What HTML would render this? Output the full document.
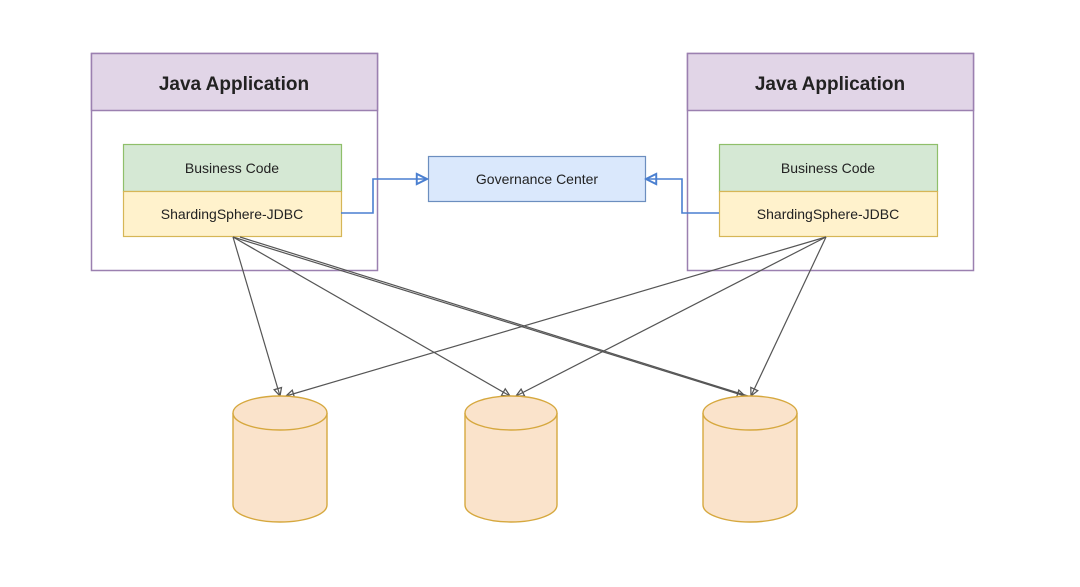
<!DOCTYPE html>
<html><head><meta charset="utf-8"><style>
html,body{margin:0;padding:0;background:#fff;width:1080px;height:587px;overflow:hidden}
text{font-family:"Comic Sans MS","Liberation Sans",sans-serif;fill:#222}
</style></head><body>
<svg width="1080" height="587" viewBox="0 0 1080 587" xmlns="http://www.w3.org/2000/svg">
<defs>
<marker id="ag" viewBox="0 0 10 10" refX="9" refY="5" markerWidth="8" markerHeight="8" orient="auto"><path d="M1,1 L9,5 L1,9 Z" fill="none" stroke="#555" stroke-width="1.3"/></marker>
<marker id="ab" viewBox="0 0 10 10" refX="9" refY="5" markerWidth="8" markerHeight="8" orient="auto"><path d="M1,1 L9,5 L1,9 Z" fill="none" stroke="#4a7fd0" stroke-width="1.5"/></marker>
</defs>
<!-- left app -->
<rect x="91.5" y="53.5" width="286" height="217" fill="#fff" stroke="#9b80b0" stroke-width="1.5"/>
<rect x="91.5" y="53.5" width="286" height="57" fill="#e1d5e7" stroke="#9b80b0" stroke-width="1.5"/>
<text x="234" y="90" text-anchor="middle" font-size="19" font-weight="bold">Java Application</text>
<rect x="123.5" y="144.5" width="218" height="47" fill="#d5e8d4" stroke="#8fbf6a" stroke-width="1.2"/>
<rect x="123.5" y="191.5" width="218" height="45" fill="#fff2cc" stroke="#d6b656" stroke-width="1.2"/>
<text x="232" y="173" text-anchor="middle" font-size="14">Business Code</text>
<text x="232" y="219" text-anchor="middle" font-size="14">ShardingSphere-JDBC</text>
<!-- right app -->
<rect x="687.5" y="53.5" width="286" height="217" fill="#fff" stroke="#9b80b0" stroke-width="1.5"/>
<rect x="687.5" y="53.5" width="286" height="57" fill="#e1d5e7" stroke="#9b80b0" stroke-width="1.5"/>
<text x="830" y="90" text-anchor="middle" font-size="19" font-weight="bold">Java Application</text>
<rect x="719.5" y="144.5" width="218" height="47" fill="#d5e8d4" stroke="#8fbf6a" stroke-width="1.2"/>
<rect x="719.5" y="191.5" width="218" height="45" fill="#fff2cc" stroke="#d6b656" stroke-width="1.2"/>
<text x="828" y="173" text-anchor="middle" font-size="14">Business Code</text>
<text x="828" y="219" text-anchor="middle" font-size="14">ShardingSphere-JDBC</text>
<!-- governance -->
<rect x="428.5" y="156.5" width="217" height="45" fill="#dae8fc" stroke="#6c8ebf" stroke-width="1.2"/>
<text x="537" y="184" text-anchor="middle" font-size="14">Governance Center</text>
<path d="M341,213 L373,213 L373,179 L427,179" fill="none" stroke="#4a7fd0" stroke-width="1.6" marker-end="url(#ab)"/>
<path d="M719,213 L682,213 L682,179 L646,179" fill="none" stroke="#4a7fd0" stroke-width="1.6" marker-end="url(#ab)"/>
<!-- db arrows -->
<g stroke="#555" stroke-width="1.2" fill="none">
<path d="M233,237 L280,396" marker-end="url(#ag)"/>
<path d="M233,237 L510,396" marker-end="url(#ag)"/>
<path d="M233,237 L745,396" marker-end="url(#ag)"/>
<path d="M240,237 L748,396"/>
<path d="M826,237 L286,396" marker-end="url(#ag)"/>
<path d="M826,237 L516,396" marker-end="url(#ag)"/>
<path d="M826,237 L751,396" marker-end="url(#ag)"/>
</g>
<!-- cylinders -->
<g fill="#fae3cb" stroke="#d6a83e" stroke-width="1.4">
<path d="M233,413 L233,505 A47,17 0 0 0 327,505 L327,413"/>
<ellipse cx="280" cy="413" rx="47" ry="17"/>
<path d="M465,413 L465,505 A46,17 0 0 0 557,505 L557,413"/>
<ellipse cx="511" cy="413" rx="46" ry="17"/>
<path d="M703,413 L703,505 A47,17 0 0 0 797,505 L797,413"/>
<ellipse cx="750" cy="413" rx="47" ry="17"/>
</g>
</svg>
</body></html>
